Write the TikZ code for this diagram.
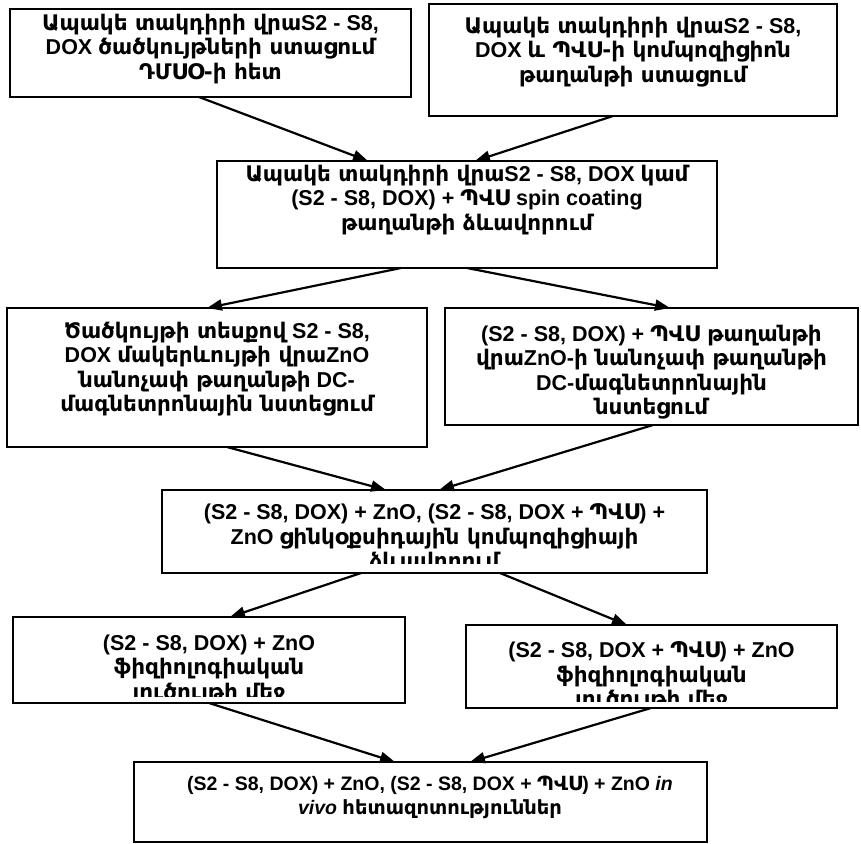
\documentclass[tikz,border=0pt]{standalone}
\usepackage{fontspec}
\setmainfont{Liberation Sans}
\newfontfamily\hyf{DejaVu Sans}
\usetikzlibrary{arrows.meta}
\newcommand\hy[1]{{\hyf #1}}
\tikzset{
  bx/.style={draw, line width=1.8pt, inner sep=0pt, outer sep=0pt},
  txt/.style={align=center, inner sep=0pt, anchor=north, font=\fontsize{21.5}{24.5}\selectfont\bfseries},
  txtsmall/.style={txt, font=\fontsize{19.5}{24}\selectfont\bfseries},
  arr/.style={line width=2.2pt, -{Triangle[length=15pt,width=11pt]}},
}
\begin{document}
\begin{tikzpicture}[x=1pt,y=1pt]
\fill[white] (0,0) rectangle (861,-843);
\useasboundingbox (0,0) rectangle (861,-843);

% boxes
\node[bx, minimum width=401pt, minimum height=88pt]  (b1) at (210.5,-53) {};
\node[bx, minimum width=408pt, minimum height=112pt] (b2) at (633,-60) {};
\node[bx, minimum width=500pt, minimum height=107pt] (b3) at (467,-214.5) {};
\node[bx, minimum width=420pt, minimum height=139pt] (b4) at (217,-377.5) {};
\node[bx, minimum width=413pt, minimum height=117pt] (b5) at (651.5,-366.5) {};
\node[bx, minimum width=545pt, minimum height=83pt]  (b6) at (434.5,-531.5) {};
\node[bx, minimum width=392pt, minimum height=86pt]  (b7) at (209,-660) {};
\node[bx, minimum width=371pt, minimum height=83pt]  (b8) at (651.5,-666.5) {};
\node[bx, minimum width=573pt, minimum height=80pt]  (b9) at (420.5,-802) {};

% texts
\node[txt] (t1) at (210.5,-13.5) {\hy{Ապակե տակդիրի վրա}S2 - S8,\\ DOX \hy{ծածկույթների ստացում}\\ \hy{ԴՄՍՕ-ի հետ}};
\node[txt] (t2) at (633,-16.5) {\hy{Ապակե տակդիրի վրա}S2 - S8,\\ DOX \hy{և ՊՎՍ-ի կոմպոզիցիոն}\\ \hy{թաղանթի ստացում}};
\node[txt] (t3) at (467,-164.5) {\hy{Ապակե տակդիրի վրա}S2 - S8, DOX \hy{կամ}\\ (S2 - S8, DOX) + \hy{ՊՎՍ} spin coating\\ \hy{թաղանթի ձևավորում}};
\node[txt] (t4) at (217,-321.5) {\hy{Ծածկույթի տեսքով} S2 - S8,\\ DOX \hy{մակերևույթի վրա}ZnO\\ \hy{նանոչափ թաղանթի} DC-\\ \hy{մագնետրոնային նստեցում}};
\node[txt] (t5) at (651.5,-324.5) {(S2 - S8, DOX) + \hy{ՊՎՍ թաղանթի}\\ \hy{վրա}ZnO-\hy{ի նանոչափ թաղանթի}\\ DC-\hy{մագնետրոնային}\\ \hy{նստեցում}};
\begin{scope}
\clip ([yshift=10pt]b6.south west) rectangle (b6.north east);
\node[txt] (t6) at (434.5,-503.5) {(S2 - S8, DOX) + ZnO, (S2 - S8, DOX + \hy{ՊՎՍ}) +\\ ZnO \hy{ցինկօքսիդային կոմպոզիցիայի}\\ \hy{ձևավորում}};
\end{scope}
\begin{scope}
\clip ([yshift=7pt]b7.south west) rectangle (b7.north east);
\node[txt] (t7) at (209,-634.5) {(S2 - S8, DOX) + ZnO\\ \hy{ֆիզիոլոգիական}\\ \hy{լուծույթի մեջ}};
\end{scope}
\begin{scope}
\clip ([yshift=7pt]b8.south west) rectangle (b8.north east);
\node[txt] (t8) at (651.5,-641.5) {(S2 - S8, DOX + \hy{ՊՎՍ}) + ZnO\\ \hy{ֆիզիոլոգիական}\\ \hy{լուծույթի մեջ}};
\end{scope}
\node[txtsmall] (t9) at (430,-775.5) {(S2 - S8, DOX) + ZnO, (S2 - S8, DOX + \hy{ՊՎՍ}) + ZnO \textit{in}\\ \textit{vivo} \hy{հետազոտություններ}};

% arrows
\draw[arr] ([xshift=-11.5pt]b1.south) -- ([xshift=-99pt]b3.north);
\draw[arr] ([xshift=-20pt]b2.south) -- ([xshift=8pt]b3.north);
\draw[arr] ([xshift=-66pt]b3.south) -- ([xshift=-10pt]b4.north);
\draw[arr] (b3.south) -- ([xshift=18.5pt]b5.north);
\draw[arr] ([xshift=10pt]b4.south) -- ([xshift=-48.5pt]b6.north);
\draw[arr] ([xshift=1.5pt]b5.south) -- ([xshift=4.5pt]b6.north);
\draw[arr] ([xshift=-73.5pt]b6.south) -- ([xshift=21pt]b7.north);
\draw[arr] ([xshift=65.5pt]b6.south) -- ([xshift=-24.5pt]b8.north);
\draw[arr] (b7.south) -- ([xshift=-25.5pt]b9.north);
\draw[arr] ([xshift=-0.5pt]b8.south) -- ([xshift=49.5pt]b9.north);
\end{tikzpicture}
\end{document}
